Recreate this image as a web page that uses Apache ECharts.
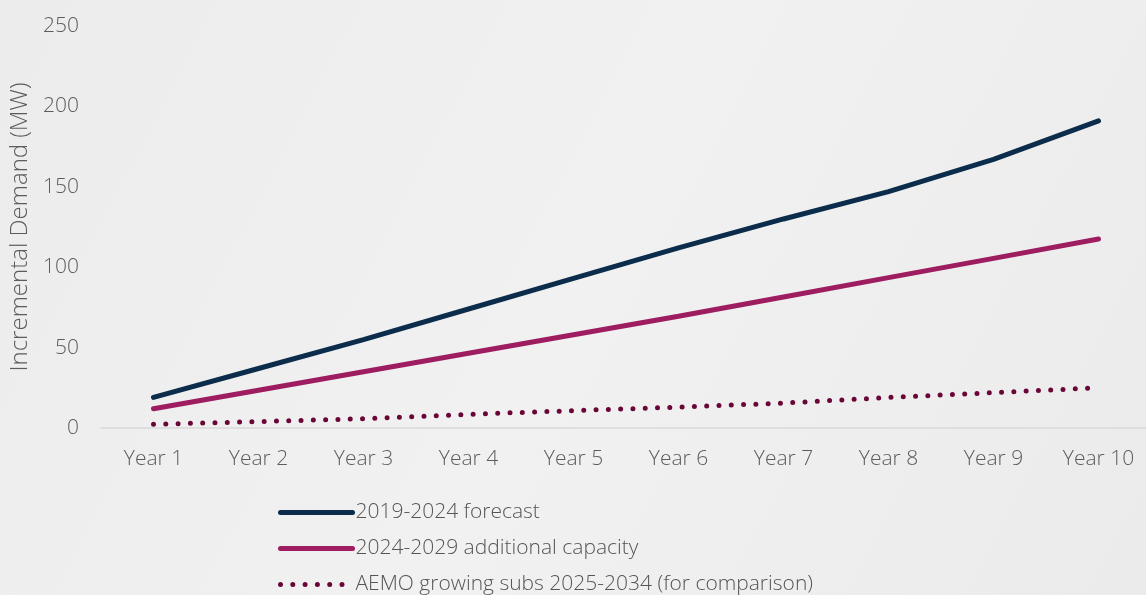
<!DOCTYPE html>
<html>
<head>
<meta charset="utf-8">
<script src="https://cdn.jsdelivr.net/npm/echarts@6/dist/echarts.min.js"></script>
<style>
html,body{margin:0;padding:0;background:#eeeeee;}
#c{width:1146px;height:595px;}
</style>
</head>
<body>
<div id="c"></div>
<script>
const categories = ['Year 1','Year 2','Year 3','Year 4','Year 5','Year 6','Year 7','Year 8','Year 9','Year 10'];
const forecast2019 = [19, 37, 55, 74, 93, 112, 130, 147, 167, 191];
const capacity2024 = [12, 23.5, 35, 46.5, 58, 69.5, 81.5, 93.5, 105.5, 117.5];
const aemo = [2.3, 4, 5.8, 8.5, 10.8, 13, 15.5, 19, 22, 25];
const seriesNames = ['2019-2024 forecast', '2024-2029 additional capacity', 'AEMO growing subs 2025-2034 (for comparison)'];
const yTicks = {min: 0, max: 250, interval: 50};

const font = 'Open Sans';
const txt = '#5c5c5c';
const cNavy = '#0b2d4b', cMag = '#9e1c60', cDot = '#6a0637';
const chart = echarts.init(document.getElementById('c'), null, {renderer: 'canvas'});
chart.setOption({
  backgroundColor: {
    type: 'linear', x: 0, y: 0, x2: 1, y2: 1,
    colorStops: [{offset: 0, color: '#ececec'}, {offset: 0.5, color: '#f1f1f1'}, {offset: 1, color: '#ebebeb'}]
  },
  animation: false,
  textStyle: {fontFamily: font},
  grid: {left: 101, top: 26, height: 402, width: 1050, containLabel: false, outerBoundsMode: 'none'},
  xAxis: {
    type: 'category', data: categories, boundaryGap: true,
    axisLine: {lineStyle: {color: '#d9d9d9', width: 1.5}},
    axisTick: {show: false},
    axisLabel: {color: txt, fontSize: 21, fontFamily: font, fontWeight: 300, margin: 21}
  },
  yAxis: {
    type: 'value', min: yTicks.min, max: yTicks.max, interval: yTicks.interval,
    name: 'Incremental Demand (MW)', nameLocation: 'middle', nameGap: 67, nameRotate: 90,
    nameTextStyle: {color: txt, fontSize: 24, fontFamily: font, fontWeight: 300},
    axisLine: {show: false}, axisTick: {show: false}, splitLine: {show: false},
    axisLabel: {color: txt, fontSize: 21, fontFamily: font, fontWeight: 300, margin: 22}
  },
  legend: {
    orient: 'vertical', left: 278, top: 502, padding: 0, height: 200, itemGap: 15, itemWidth: 72, itemHeight: 22,
    textStyle: {color: '#555555', fontSize: 21, fontFamily: font, fontWeight: 300, padding: [0, 0, 0, -2]},
    itemStyle: {opacity: 0},
    data: [
      {name: seriesNames[0], itemStyle: {opacity: 0}, lineStyle: {color: cNavy, width: 5, cap: 'round'}},
      {name: seriesNames[1], itemStyle: {opacity: 0}, lineStyle: {color: cMag, width: 5, cap: 'round'}},
      {name: seriesNames[2], itemStyle: {opacity: 0}, lineStyle: {color: cDot, width: 5, type: [0, 12.3], cap: 'round'}}
    ]
  },
  series: [
    {name: seriesNames[0], type: 'line', data: forecast2019, symbol: 'none',
      color: cNavy, lineStyle: {color: cNavy, width: 5, cap: 'round'}},
    {name: seriesNames[1], type: 'line', data: capacity2024, symbol: 'none',
      color: cMag, lineStyle: {color: cMag, width: 5, cap: 'round'}},
    {name: seriesNames[2], type: 'line', data: aemo, symbol: 'none',
      color: cDot, lineStyle: {color: cDot, width: 5, type: [0, 12.3], cap: 'round'}}
  ]
});
</script>
</body>
</html>
